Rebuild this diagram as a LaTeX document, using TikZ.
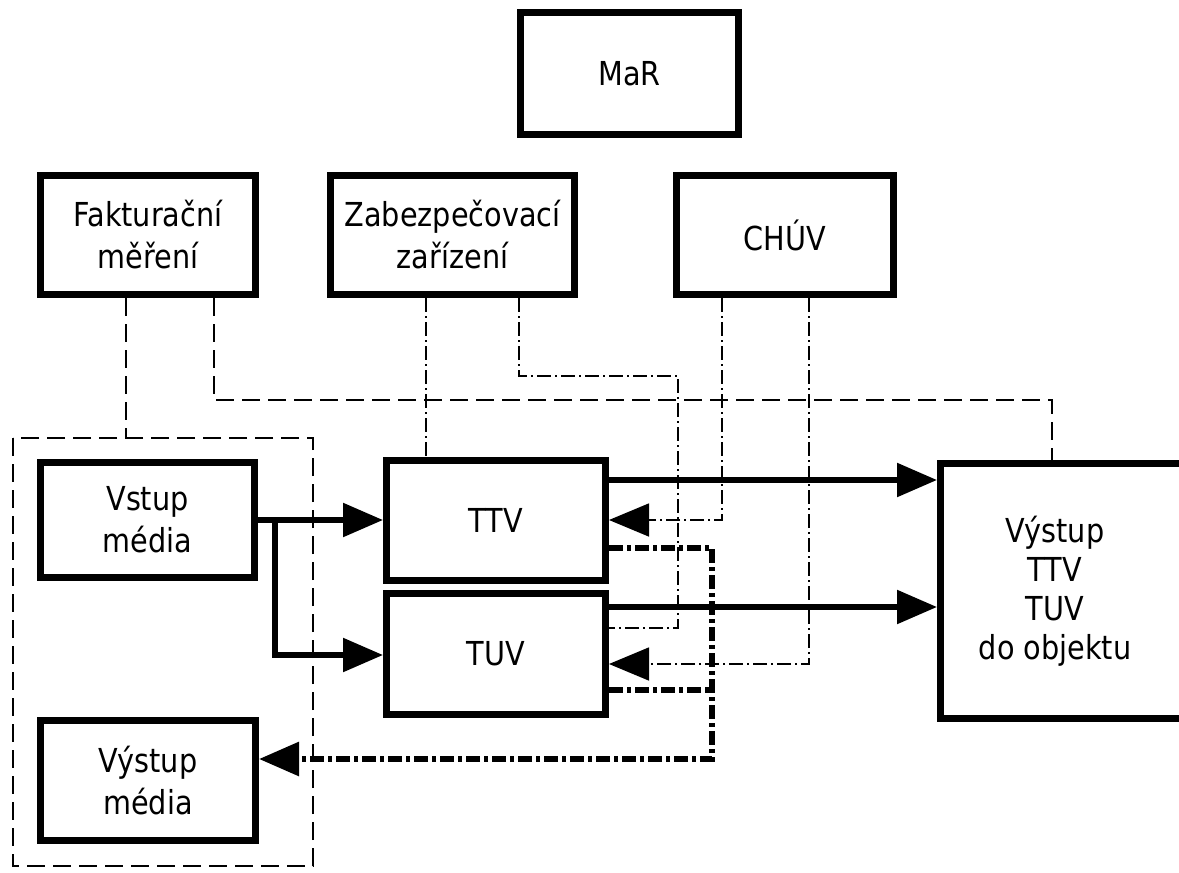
\documentclass[tikz,border=0pt]{standalone}
\usepackage{fontspec}
\setmainfont{DejaVu Sans}[FakeStretch=0.87]
\usetikzlibrary{arrows.meta}
\tikzset{
  box/.style={draw, line width=7pt, rectangle, align=center, inner sep=0pt,
    font=\fontsize{33}{42}\selectfont},
  thickline/.style={line width=5.5pt},
  thindash/.style={line width=1.6pt, dash pattern=on 18pt off 8pt},
  thindashdot/.style={line width=1.6pt, dash pattern=on 14pt off 4pt on 2pt off 4pt},
  thickdashdot/.style={line width=6pt, dash pattern=on 14pt off 4pt on 4pt off 4pt},
  bigarrow/.style={-{Triangle[length=40pt,width=33pt]}},
}
\begin{document}
\begin{tikzpicture}[x=1pt,y=-1pt]
\useasboundingbox (0,0) rectangle (1179,873);
% boxes
\node[box, minimum width=218pt, minimum height=122pt] (mar) at (629.5,73.5) {MaR};
\node[box, minimum width=215pt, minimum height=119pt] (fakt) at (148,235) {Fakturační\\měření};
\node[box, minimum width=244pt, minimum height=119pt] (zab) at (452.5,235) {Zabezpečovací\\zařízení};
\node[box, minimum width=217pt, minimum height=119pt] (chuv) at (785,235) {CHÚV};
\node[box, minimum width=214pt, minimum height=115pt] (vstup) at (147.5,519.5) {Vstup\\média};
\node[box, minimum width=219pt, minimum height=120pt] (ttv) at (496,520.5) {TTV};
\node[box, minimum width=219pt, minimum height=121pt] (tuv) at (496,654) {TUV};
\node[box, minimum width=215pt, minimum height=120pt] (vym) at (148,780.5) {Výstup\\média};
\node[box, minimum width=246pt, minimum height=255pt] (vyo) at (1063.5,591) {};
\node[font=\fontsize{33}{39}\selectfont, align=center] (vyotext) at (1055,591) {Výstup\\TTV\\TUV\\do objektu};
% group dashed box
\coordinate (gtl) at (13,438);
\coordinate (gbr) at (313,866);
\draw[thindash] (gtl) rectangle (gbr);
% Fakturacni lines
\coordinate (gtop) at (126,438);
\draw[thindash] ([xshift=-22pt]fakt.south) -- (gtop);
\coordinate (fk1) at (214,400);
\coordinate (fk2) at (1052,400);
\draw[thindash] ([xshift=66pt]fakt.south) -- (fk1) -- (fk2) -- (fk2 |- vyo.north);
% Zabezpecovaci lines
\draw[thindashdot] ([xshift=-26.5pt]zab.south) -- ([xshift=-26.5pt]zab.south |- ttv.north);
\coordinate (z1) at (519,376);
\coordinate (z2) at (678,376);
\coordinate (z3) at (678,628);
\draw[thindashdot] ([xshift=66.5pt]zab.south) -- (z1) -- (z2) -- (z3) -- (z3 -| tuv.east);
% CHUV lines
\coordinate (c1) at (722,520);
\draw[thindashdot, bigarrow] ([xshift=-63pt]chuv.south) -- (c1) -- (c1 -| ttv.east);
\coordinate (c2) at (809,664);
\draw[thindashdot, bigarrow] ([xshift=24pt]chuv.south) -- (c2) -- (c2 -| tuv.east);
% thick solid
\coordinate (b1) at (275,520);
\coordinate (b2) at (275,655);
\draw[thickline, bigarrow] (vstup.east |- b1) -- (ttv.west |- b1);
\draw[thickline, bigarrow] (b1) -- (b2) -- (tuv.west |- b2);
\coordinate (o1) at (700,480);
\coordinate (o2) at (700,607);
\draw[thickline, bigarrow] (ttv.east |- o1) -- (vyo.west |- o1);
\draw[thickline, bigarrow] (tuv.east |- o2) -- (vyo.west |- o2);
% thick dash-dot return
\coordinate (r1) at (712,548);
\coordinate (r2) at (712,759);
\coordinate (r3) at (712,690);
\draw[thickdashdot, bigarrow] (ttv.east |- r1) -- (r1) -- (r2) -- (vym.east |- r2);
\draw[thickdashdot] (tuv.east |- r3) -- (r3);
\end{tikzpicture}
\end{document}
